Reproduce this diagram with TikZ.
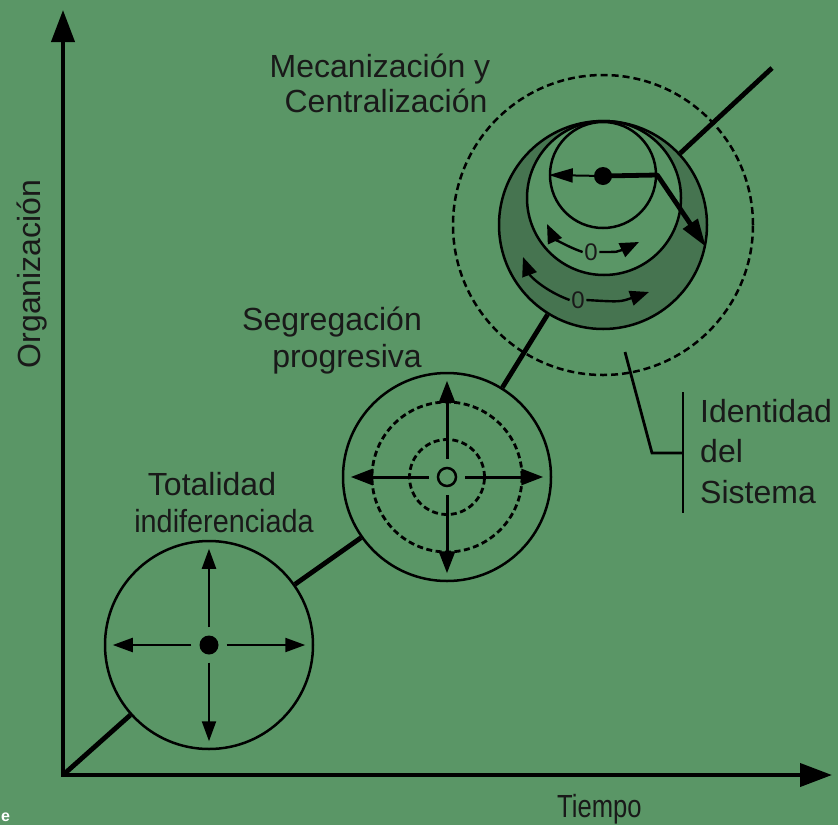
\documentclass[tikz,border=0pt]{standalone}
\usepackage{fontspec}
\setmainfont{Liberation Sans}
\usetikzlibrary{arrows.meta}
\definecolor{bg}{RGB}{90,150,102}
\definecolor{darkring}{RGB}{70,116,80}
\definecolor{txt}{RGB}{25,25,25}
\begin{document}
\begin{tikzpicture}[x=1pt,y=-1pt,
  lbl/.style={text=txt,font=\fontsize{32}{36}\selectfont,inner sep=0},
  zero/.style={text=txt,font=\fontsize{24}{26}\selectfont,inner sep=1.5pt},
  ring/.style={circle,draw=black,line width=2.5pt,inner sep=0,minimum size=#1},
  dot/.style={circle,fill=black,inner sep=0,minimum size=#1},
  mainline/.style={line width=4.8pt},
  axis/.style={line width=4pt,{Triangle[length=32pt,width=23pt]}-{Triangle[length=32pt,width=23pt]}},
  arrA/.style={line width=2.2pt,-{Triangle[length=20pt,width=14pt]},shorten <=8pt,shorten >=9pt},
  arrB/.style={line width=3pt,-{Triangle[length=22pt,width=16pt]},shorten <=8pt,shorten >=9pt},
  arrS/.style={line width=2.4pt,-{Triangle[length=19pt,width=15pt]}},
  bracket/.style={line width=2.8pt},
]
\fill[bg] (0,0) rectangle (838,825);
\useasboundingbox (0,0) rectangle (838,825);

% axes
\coordinate (O) at (63,775);
\coordinate (ytip) at (63,10);
\coordinate (xtip) at (832,775);
\draw[axis] (ytip) -- (O) -- (xtip);

% circle 1
\node[ring=208pt] (c1) at (209,645) {};
\node[dot=19pt] (d1) at (209,645) {};
\draw[arrA] (d1) -- (c1.north);
\draw[arrA] (d1) -- (c1.south);
\draw[arrA] (d1) -- (c1.west);
\draw[arrA] (d1) -- (c1.east);

% circle 2
\node[ring=208pt] (c2) at (447,477) {};
\node[ring=150pt,line width=2.8pt,dash pattern=on 6pt off 3.5pt] (c2b) at (447,477) {};
\node[ring=75pt,line width=2.8pt,dash pattern=on 6pt off 3.5pt] (c2a) at (447,477) {};
\node[ring=18pt] (o2) at (447,477) {};
\draw[arrB] (o2) -- (c2.north);
\draw[arrB] (o2) -- (c2.south);
\draw[arrB] (o2) -- (c2.west);
\draw[arrB] (o2) -- (c2.east);

% top structure
\node[ring=300pt,dash pattern=on 7pt off 4pt] (T0) at (603,225) {};
\node[ring=208pt,fill=darkring] (T1) at (603,225) {};
\node[ring=154pt,fill=bg] (T2) at (604,198) {};
\node[ring=106pt] (T3) at (603,175) {};
\node[dot=18pt] (d3) at (603,176) {};
\draw[line width=2pt,-{Triangle[length=24pt,width=14pt]}] (d3.center) -- (T3.west);
\draw[line width=4.8pt,line join=round,-{Triangle[length=28pt,width=17pt]}] (d3.center) -- (T3.east) -- (T1.-12);

\node[zero] (z1) at (591,252) {0};
\draw[arrS] (z1.west) .. controls (565,246) and (553,237) .. (547,224);
\draw[arrS] (z1.east) .. controls (618,252) .. (639,242);
\node[zero] (z2) at (578,300) {0};
\draw[arrS] (z2.west) .. controls (545,291) and (530,276) .. (523,257);
\draw[arrS] (z2.east) .. controls (620,302) .. (649,292);

% main diagonal
\coordinate (E) at (772,68);
\draw[mainline] (O) -- (c1);
\draw[mainline] (c1) -- (c2);
\draw[mainline] (c2) -- (T1);
\draw[mainline] (T1) -- (E);

% identity bracket
\coordinate (b0) at (625,352);
\coordinate (b1) at (652,453);
\coordinate (b2) at (683,453);
\coordinate (b3) at (683,392);
\coordinate (b4) at (683,513);
\draw[bracket] (b0) -- (b1) -- (b2);
\draw[bracket] (b3) -- (b4);

% labels
\node[lbl,anchor=base] (m1) at (380,77) {Mecanización y};
\node[lbl,anchor=base] (m2) at (386,112) {Centralización};
\node[lbl,anchor=base] (s1) at (332,330) {Segregación};
\node[lbl,anchor=base] (s2) at (347,367) {progresiva};
\node[lbl,anchor=base] (t1) at (212,495) {Totalidad};
\node[lbl,anchor=base] (t2) at (224,532) {\scalebox{0.9}[1]{indiferenciada}};
\node[lbl,anchor=base west] (i1) at (700,422) {Identidad};
\node[lbl,anchor=base west] (i2) at (700,462) {del};
\node[lbl,anchor=base west] (i3) at (700,503) {Sistema};
\node[lbl,anchor=base west] (tp) at (557,817) {\scalebox{0.8}[1]{Tiempo}};
\node[lbl,anchor=base,rotate=90] (org) at (40,274) {Organización};
\node[text=white,font=\bfseries\fontsize{16}{18}\selectfont,anchor=base west,inner sep=0] (ee) at (1,821) {e};
\end{tikzpicture}
\end{document}
